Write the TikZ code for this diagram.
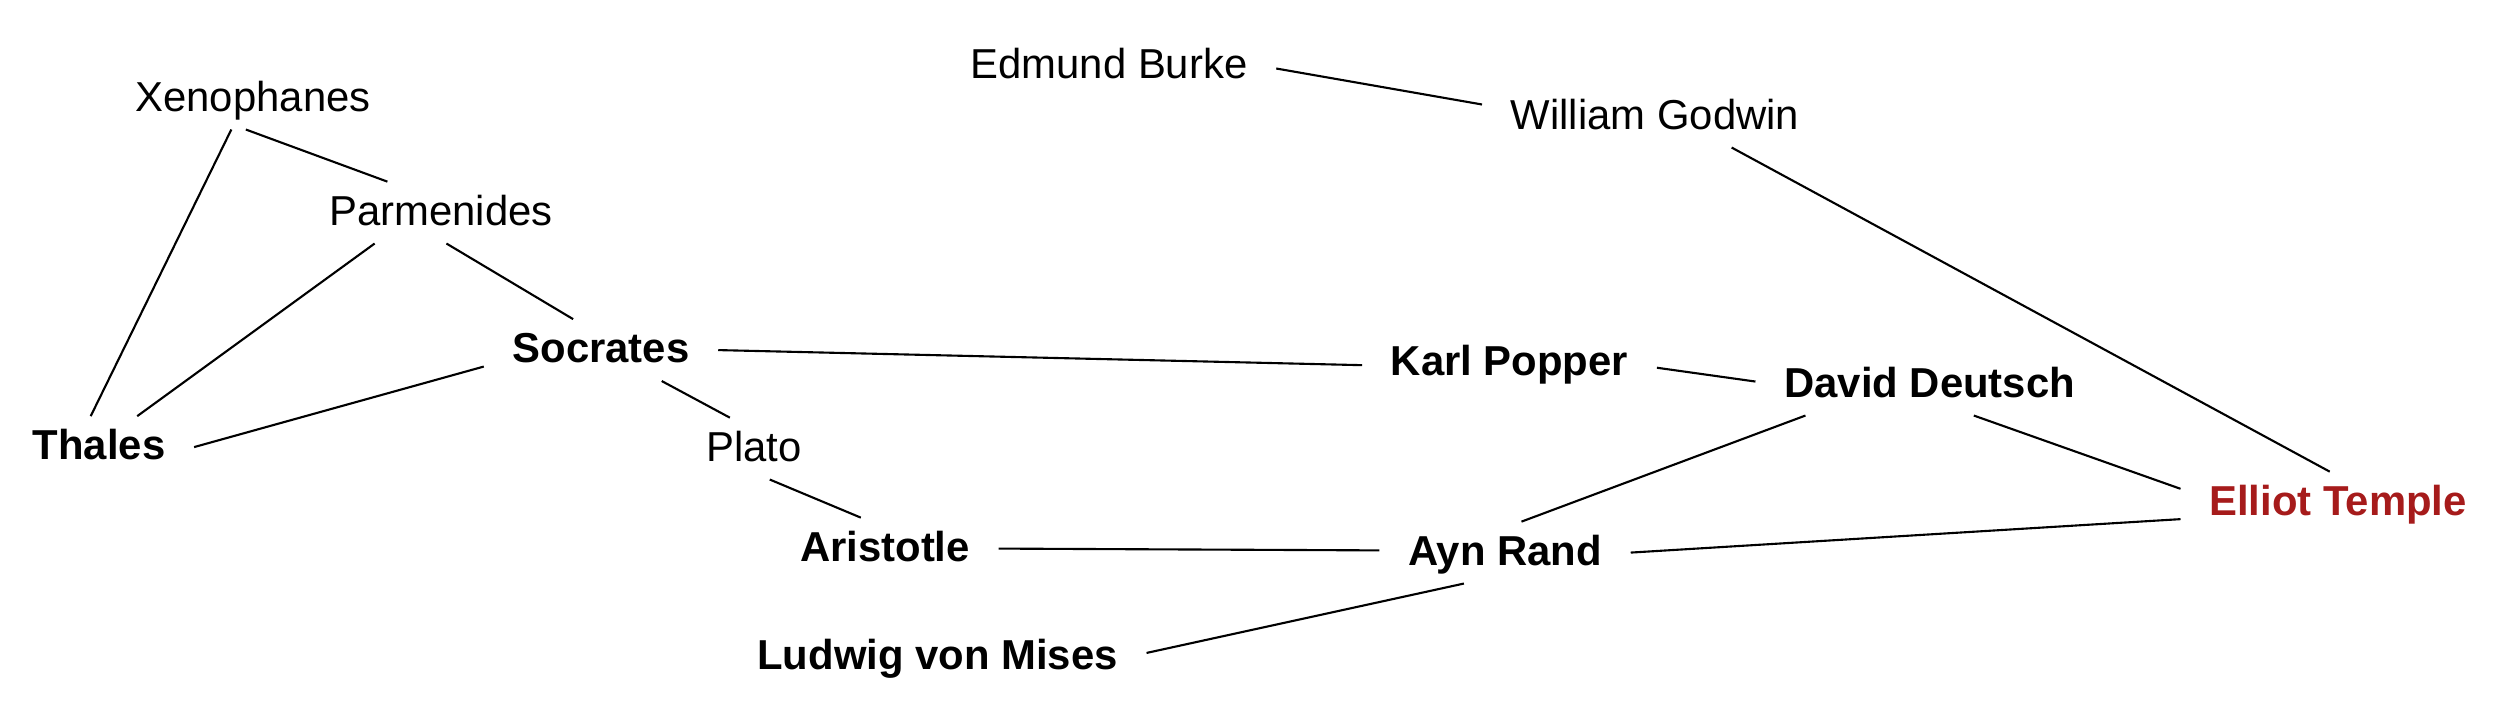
\documentclass[tikz,border=0pt]{standalone}
\usepackage{fontspec}
\setmainfont{Liberation Sans}
\definecolor{etred}{RGB}{166,27,27}
\tikzset{ph/.style={inner xsep=8pt,inner ysep=5pt,text height=0.72em,text depth=0pt,yshift=-1.3pt,font=\fontsize{11.9}{14}\selectfont},
phb/.style={ph,font=\fontsize{11.9}{14}\selectfont\bfseries},
ln/.style={line width=0.6pt}}
\begin{document}
\begin{tikzpicture}[x=0.01cm,y=-0.01cm]
\useasboundingbox (0,0) rectangle (2500,720);
\node[ph] (xen) at (253,94) {Xenophanes};
\node[ph] (par) at (441,208) {Parmenides};
\node[phb] (soc) at (601,345.5) {Socrates};
\node[phb] (tha) at (99,442.5) {Thales};
\node[ph] (pla) at (754,444) {Plato};
\node[phb] (ari) at (885,544) {Aristotle};
\node[phb] (lud) at (937.5,652) {Ludwig von Mises};
\node[ph] (bur) at (1109,61) {Edmund Burke};
\node[ph] (god) at (1655,112) {William Godwin};
\node[phb] (pop) at (1509.5,358) {Karl Popper};
\node[phb] (deu) at (1929.6,380) {David Deutsch};
\node[phb] (ayn) at (1505,548) {Ayn Rand};
\node[phb,text=etred] (ell) at (2338,498) {Elliot Temple};
\draw[ln](xen.235)--(tha.105);
\draw[ln](xen.257)--(par.150);
\draw[ln](par.205)--(tha.39);
\draw[ln](par.280)--(soc.132);
\draw[ln](soc.188)--(tha.0);
\draw[ln](soc.333)--(pla.128);
\draw[ln](pla.297)--(ari.128);
\draw[ln](soc.0)--(pop.181);
\draw[ln](ari.0)--(ayn.179);
\draw[ln](lud.1)--(ayn.217);
\draw[ln](bur.-1)--(god.176);
\draw[ln](god.338)--(ell.105);
\draw[ln](pop.-2)--(deu.179);
\draw[ln](deu.194)--(ayn.62);
\draw[ln](deu.325)--(ell.175);
\draw[ln](ayn.0)--(ell.186);
\end{tikzpicture}
\end{document}
